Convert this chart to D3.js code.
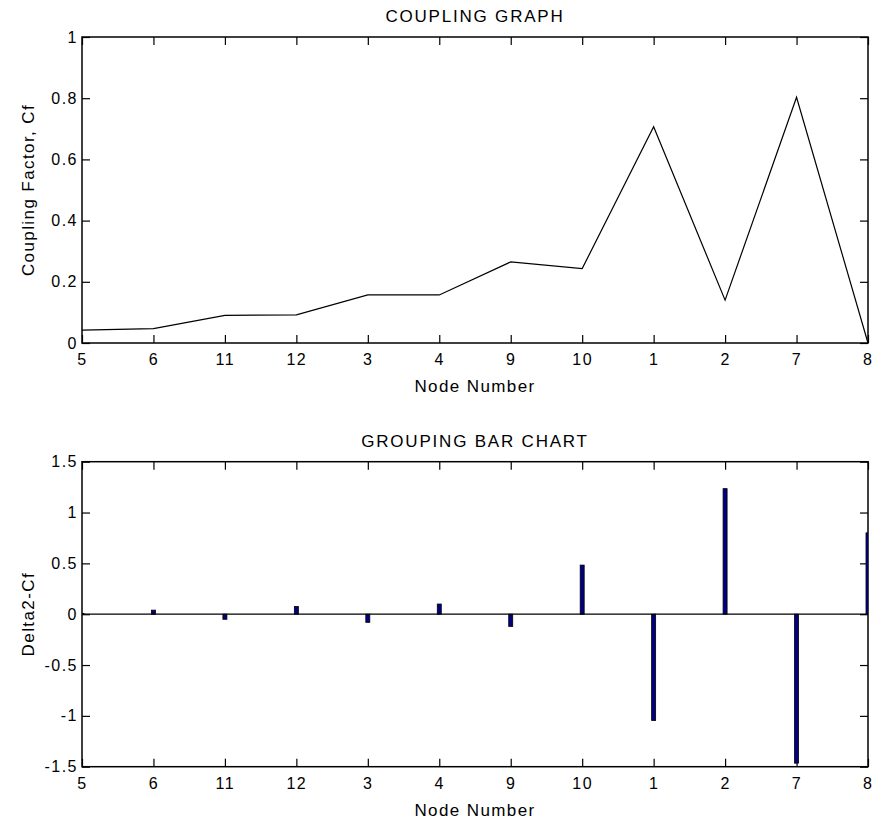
<!DOCTYPE html>
<html>
<head>
<meta charset="utf-8">
<script src="https://cdn.jsdelivr.net/npm/d3@7"></script>
<style>
  body { margin: 0; background: #fff; }
  svg text { font-family: "Liberation Sans", Arial, sans-serif; fill: #000; }
</style>
</head>
<body>
<svg id="chart" width="872" height="822"></svg>
<script>
// node order along the x axis
const nodes = ['5', '6', '11', '12', '3', '4', '9', '10', '1', '2', '7', '8'];

// coupling factor per node (top plot)
const couplingFactor = [0.042, 0.047, 0.09, 0.092, 0.157, 0.157, 0.265, 0.243, 0.707, 0.14, 0.803, 0.0];

// delta2 - Cf per node (bottom plot)
const delta2Cf = [0.008, 0.04, -0.05, 0.075, -0.08, 0.1, -0.12, 0.483, -1.046, 1.235, -1.465, 0.80];

const topTicks = [0, 0.2, 0.4, 0.6, 0.8, 1];
const topTickLabels = ['0', '0.2', '0.4', '0.6', '0.8', '1'];
const botTicks = [-1.5, -1, -0.5, 0, 0.5, 1, 1.5];
const botTickLabels = ['-1.5', '-1', '-0.5', '0', '0.5', '1', '1.5'];

const svg = d3.select('#chart');
const left = 82, right = 868;

const x = d3.scalePoint()
  .domain(nodes)
  .range([left, right])
  .padding(0);

// draws frame, ticks and labels for one panel
function drawFrame(y, ticks, labels, top, bottom, title, ylabel, clipId) {
  const g = svg.append('g');

  g.append('defs').append('clipPath')
    .attr('id', clipId)
  .append('rect')
    .attr('x', left)
    .attr('y', top)
    .attr('width', right - left)
    .attr('height', bottom - top);

  const fmt = (d) => labels[ticks.indexOf(d)];

  const xb = g.append('g')
    .attr('transform', 'translate(0,' + bottom + ')')
    .call(d3.axisBottom(x).tickSizeInner(-8).tickSizeOuter(0).tickPadding(10.6));
  const xt = g.append('g')
    .attr('transform', 'translate(0,' + top + ')')
    .call(d3.axisTop(x).tickSizeInner(-8).tickSizeOuter(0).tickFormat(''));
  const yl = g.append('g')
    .attr('transform', 'translate(' + left + ',0)')
    .call(d3.axisLeft(y).tickValues(ticks).tickFormat(fmt)
      .tickSizeInner(-8).tickSizeOuter(0).tickPadding(4));
  const yr = g.append('g')
    .attr('transform', 'translate(' + right + ',0)')
    .call(d3.axisRight(y).tickValues(ticks).tickFormat('')
      .tickSizeInner(-8).tickSizeOuter(0));

  [xb, xt, yl, yr].forEach((a) => {
    a.select('.domain').remove();
    a.selectAll('.tick line').attr('stroke', '#000').attr('stroke-width', 1.2);
    a.selectAll('.tick text')
      .style('font-size', '16px')
      .style('letter-spacing', '1.5px')
      .attr('fill', '#000');
  });

  // last x label sits on the window edge; keep it inside
  xb.selectAll('.tick text')
    .filter((d) => d === nodes[nodes.length - 1])
    .style('letter-spacing', '0px')
    .attr('dx', -1);

  g.append('rect')
    .attr('x', left)
    .attr('y', top)
    .attr('width', right - left)
    .attr('height', bottom - top)
    .attr('fill', 'none')
    .attr('stroke', '#000')
    .attr('stroke-width', 1.5);

  g.append('text')
    .attr('x', (left + right) / 2)
    .attr('y', top - 15)
    .attr('text-anchor', 'middle')
    .style('font-size', '17px')
    .style('letter-spacing', '1.8px')
    .text(title);

  g.append('text')
    .attr('x', (left + right) / 2)
    .attr('y', bottom + 49)
    .attr('text-anchor', 'middle')
    .style('font-size', '17px')
    .style('letter-spacing', '1.4px')
    .text('Node Number');

  g.append('text')
    .attr('transform', 'translate(34,' + (top + bottom) / 2 + ') rotate(-90)')
    .attr('text-anchor', 'middle')
    .style('font-size', '17px')
    .style('letter-spacing', '1.4px')
    .text(ylabel);

  return g;
}

// top panel: coupling graph
const topY = d3.scaleLinear().domain([0, 1]).range([343, 37]);
drawFrame(topY, topTicks, topTickLabels, 37, 343, 'COUPLING GRAPH', 'Coupling Factor, Cf', 'clipTop');

const line = d3.line()
  .x((d, i) => x(nodes[i]))
  .y((d) => topY(d));

svg.append('path')
  .datum(couplingFactor)
  .attr('d', line)
  .attr('fill', 'none')
  .attr('stroke', '#000')
  .attr('stroke-width', 1.2);

// bottom panel: grouping bar chart
const botY = d3.scaleLinear().domain([-1.5, 1.5]).range([766.7, 461.7]);
drawFrame(botY, botTicks, botTickLabels, 461.7, 766.7, 'GROUPING BAR CHART', 'Delta2-Cf', 'clipBot');

const barW = 4;
svg.append('g')
  .attr('clip-path', 'url(#clipBot)')
  .selectAll('rect')
  .data(delta2Cf)
  .join('rect')
    .attr('x', (d, i) => x(nodes[i]) - barW / 2)
    .attr('y', (d) => botY(Math.max(0, d)))
    .attr('width', barW)
    .attr('height', (d) => Math.abs(botY(d) - botY(0)))
    .attr('fill', '#000080')
    .attr('stroke', '#000')
    .attr('stroke-width', 0.8);

svg.append('line')
  .attr('x1', left)
  .attr('x2', right)
  .attr('y1', botY(0))
  .attr('y2', botY(0))
  .attr('stroke', '#000')
  .attr('stroke-width', 1.2);
</script>
</body>
</html>
